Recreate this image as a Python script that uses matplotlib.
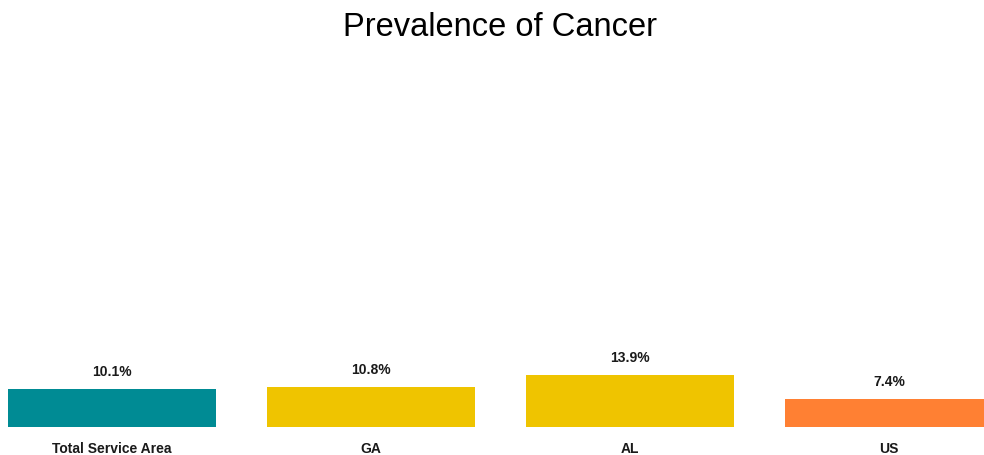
import matplotlib.pyplot as plt

plt.rcParams['font.family'] = ['Liberation Sans', 'DejaVu Sans']

# data
categories = ['Total Service Area', 'GA', 'AL', 'US']
values = [10.1, 10.8, 13.9, 7.4]
value_labels = ['10.1%', '10.8%', '13.9%', '7.4%']
colors = ['#008B94', '#EFC400', '#EFC400', '#FF8033']

fig = plt.figure(figsize=(9.84, 4.56), dpi=100)
# axes runs a little past the figure edges, like the source crop
ax = fig.add_axes([-17.5 / 984, 28.5 / 456, 1036 / 984, 367 / 456])

x = range(len(categories))
bars = ax.bar(x, values, width=0.8, color=colors, edgecolor='none')

for b, lab in zip(bars, value_labels):
    ax.annotate(lab, (b.get_x() + b.get_width() / 2, b.get_height()),
                xytext=(0, 8), textcoords='offset points',
                ha='center', va='bottom', fontsize=10, fontweight='bold',
                color='#1a1a1a')

ax.set_xlim(-0.5, 3.5)
ax.set_ylim(0, 100)
ax.set_xticks(list(x))
ax.set_xticklabels(categories, fontsize=10, fontweight='bold', color='#1a1a1a')
ax.tick_params(axis='x', length=0, pad=10.5)
ax.set_yticks([])
for s in ax.spines.values():
    s.set_visible(False)

fig.text(500 / 984, 1 - 27 / 456, 'Prevalence of Cancer', ha='center', va='center',
         fontsize=23.5, color='black')

fig.savefig('out.png', dpi=100)
